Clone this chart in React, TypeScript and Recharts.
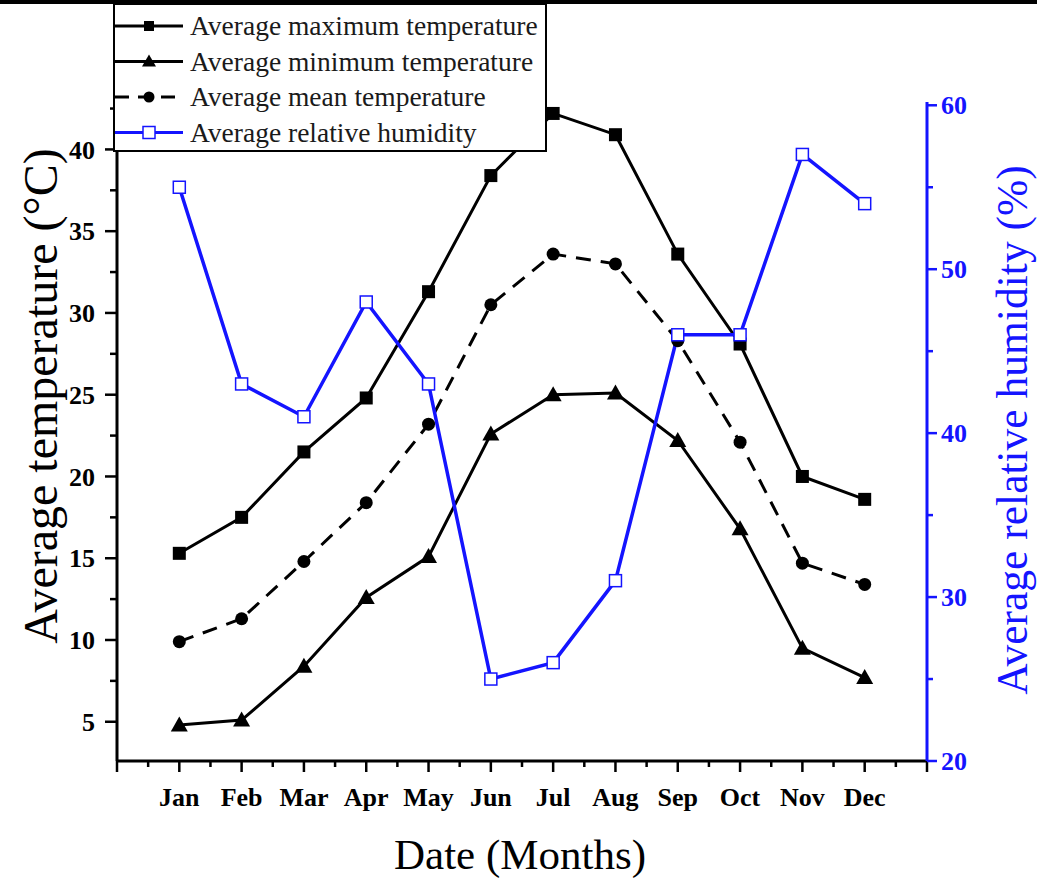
import React from 'react';
import { LineChart, Line, XAxis, YAxis } from 'recharts';

// monthly climate normals
const months = ['Jan', 'Feb', 'Mar', 'Apr', 'May', 'Jun', 'Jul', 'Aug', 'Sep', 'Oct', 'Nov', 'Dec'];
const maxTemp = [15.3, 17.5, 21.5, 24.8, 31.3, 38.4, 42.2, 40.9, 33.6, 28.1, 20.0, 18.6];
const minTemp = [4.8, 5.1, 8.4, 12.6, 15.1, 22.6, 25.0, 25.1, 22.2, 16.8, 9.5, 7.7];
const meanTemp = [9.9, 11.3, 14.8, 18.4, 23.2, 30.5, 33.6, 33.0, 28.3, 22.1, 14.7, 13.4];
const humidity = [55, 43, 41, 48, 43, 25, 26, 31, 46, 46, 57, 54];

const monthTicks = [0, 0.5, 1, 1.5, 2, 2.5, 3, 3.5, 4, 4.5, 5, 5.5, 6, 6.5, 7, 7.5, 8, 8.5, 9, 9.5, 10, 10.5, 11, 11.5, 12, 12.5, 13];
const tempTicks = [5, 7.5, 10, 12.5, 15, 17.5, 20, 22.5, 25, 27.5, 30, 32.5, 35, 37.5, 40, 42.5];
const humidityTicks = [20, 25, 30, 35, 40, 45, 50, 55, 60];

const data = months.map((m, i) => ({
  month: i + 1,
  max: maxTemp[i],
  min: minTemp[i],
  mean: meanTemp[i],
  rh: humidity[i],
}));

const FONT = '"Liberation Serif", "Times New Roman", serif';
const BLUE = '#1414ff';
const TICK_FONT = 26;

const BottomTick = (p: any) => {
  const v = p.payload.value;
  const major = Number.isInteger(v);
  return (
    <g>
      <line x1={p.x} y1={p.y} x2={p.x} y2={p.y + (major ? 11 : 6)} stroke="#000" strokeWidth={2.5} />
      {major && v >= 1 && v <= 12 && (
        <text x={p.x} y={p.y + 45} textAnchor="middle" fontFamily={FONT} fontWeight="bold" fontSize={TICK_FONT} fill="#000">
          {months[v - 1]}
        </text>
      )}
    </g>
  );
};

const TopTick = (p: any) => {
  const major = Number.isInteger(p.payload.value);
  return <line x1={p.x} y1={p.y} x2={p.x} y2={p.y + (major ? 10 : 6)} stroke="#000" strokeWidth={2.5} />;
};

const LeftTick = (p: any) => {
  const v = p.payload.value;
  const major = v % 5 === 0;
  return (
    <g>
      <line x1={p.x} y1={p.y} x2={p.x - (major ? 12 : 7)} y2={p.y} stroke="#000" strokeWidth={2.5} />
      {major && (
        <text x={p.x - 22} y={p.y} dy="0.35em" textAnchor="end" fontFamily={FONT} fontWeight="bold" fontSize={TICK_FONT} fill="#000">
          {v}
        </text>
      )}
    </g>
  );
};

const RightTick = (p: any) => {
  const v = p.payload.value;
  const major = v % 10 === 0;
  return (
    <g>
      <line x1={p.x} y1={p.y} x2={p.x + (major ? 10 : 6)} y2={p.y} stroke={BLUE} strokeWidth={2.5} />
      {major && (
        <text x={p.x + 14} y={p.y} dy="0.35em" textAnchor="start" fontFamily={FONT} fontWeight="bold" fontSize={TICK_FONT} fill={BLUE}>
          {v}
        </text>
      )}
    </g>
  );
};

const SquareDot = (p: any) => (
  <rect key={`sq-${p.index}`} x={p.cx - 6.5} y={p.cy - 6.5} width={13} height={13} fill="#000" />
);
const TriangleDot = (p: any) => (
  <path key={`tr-${p.index}`} d={`M${p.cx},${p.cy - 8.5} L${p.cx + 8.5},${p.cy + 6.5} L${p.cx - 8.5},${p.cy + 6.5} Z`} fill="#000" />
);
const CircleDot = (p: any) => <circle key={`ci-${p.index}`} cx={p.cx} cy={p.cy} r={6.5} fill="#000" />;
const OpenSquareDot = (p: any) => (
  <rect key={`os-${p.index}`} x={p.cx - 6} y={p.cy - 6} width={12} height={12} fill="#fff" stroke={BLUE} strokeWidth={1.5} />
);

const LeftTitle = (p: any) => {
  const vb = p.viewBox;
  const cx = vb.x + 40;
  const cy = 396;
  return (
    <text x={cx} y={cy} transform={`rotate(-90 ${cx} ${cy})`} textAnchor="middle" dy="0.35em" fontFamily={FONT} fontSize={48} fill="#000">
      Average temperature (°C)
    </text>
  );
};

const RightTitle = (p: any) => {
  const vb = p.viewBox;
  const cx = vb.x + 85;
  const cy = 430;
  return (
    <text x={cx} y={cy} transform={`rotate(-90 ${cx} ${cy})`} textAnchor="middle" dy="0.35em" fontFamily={FONT} fontSize={43.5} fill={BLUE}>
      Average relative humidity (%)
    </text>
  );
};

const BottomTitle = (p: any) => {
  const vb = p.viewBox;
  return (
    <text x={vb.x + vb.width / 2 - 2} y={vb.y + 108} textAnchor="middle" fontFamily={FONT} fontSize={43} fill="#000">
      Date (Months)
    </text>
  );
};

const legendItems = [
  { name: 'Average maximum temperature', color: '#000', dash: undefined, marker: 'square' },
  { name: 'Average minimum temperature', color: '#000', dash: undefined, marker: 'triangle' },
  { name: 'Average mean temperature', color: '#000', dash: '14 9', marker: 'circle' },
  { name: 'Average relative humidity', color: BLUE, dash: undefined, marker: 'open' },
];

function LegendBox() {
  return (
    <div
      style={{
        position: 'absolute',
        left: 113,
        top: 3,
        width: 430,
        height: 145,
        border: '2px solid #000',
        background: '#fff',
      }}
    >
      <svg width={430} height={145}>
        {legendItems.map((it, i) => {
          const y = 21 + i * 35.5;
          const mx = 34;
          return (
            <g key={it.name}>
              <line x1={0} y1={y} x2={68} y2={y} stroke={it.color} strokeWidth={3} strokeDasharray={it.dash} />
              {it.marker === 'square' && <rect x={mx - 5} y={y - 5} width={10} height={10} fill="#000" />}
              {it.marker === 'triangle' && <path d={`M${mx},${y - 7} L${mx + 7},${y + 5} L${mx - 7},${y + 5} Z`} fill="#000" />}
              {it.marker === 'circle' && <circle cx={mx} cy={y} r={5.5} fill="#000" />}
              {it.marker === 'open' && (
                <rect x={mx - 6} y={y - 6} width={12} height={12} fill="#fff" stroke={BLUE} strokeWidth={1.5} />
              )}
              <text x={75} y={y} dy="0.33em" fontFamily={FONT} fontSize={27.5} fill="#1a1a1a">
                {it.name}
              </text>
            </g>
          );
        })}
      </svg>
    </div>
  );
}

export default function App() {
  return (
    <div style={{ position: 'absolute', left: 0, top: 0, width: 1037, height: 881, background: '#fff', overflow: 'hidden' }}>
      <div style={{ position: 'absolute', left: 0, top: 0, width: 1037, height: 4, background: '#000' }} />
      <LineChart width={1037} height={881} data={data} margin={{ top: 102, right: 0, bottom: 0, left: 0 }}>
        <XAxis
          xAxisId="x"
          dataKey="month"
          type="number"
          domain={[0, 13]}
          ticks={monthTicks}
          interval={0}
          height={120}
          tickSize={0}
          tickMargin={0}
          tickLine={false}
          tick={<BottomTick />}
          axisLine={{ stroke: '#000', strokeWidth: 3 }}
          label={<BottomTitle />}
        />
        <XAxis
          xAxisId="top"
          orientation="top"
          dataKey="month"
          type="number"
          domain={[0, 13]}
          ticks={monthTicks}
          interval={0}
          height={0}
          tickSize={0}
          tickMargin={0}
          tickLine={false}
          tick={<TopTick />}
          axisLine={{ stroke: '#000', strokeWidth: 3 }}
        />
        <YAxis
          yAxisId="t"
          type="number"
          domain={[2.6, 42.9]}
          allowDataOverflow
          ticks={tempTicks}
          interval={0}
          width={117}
          tickSize={0}
          tickMargin={0}
          tickLine={false}
          tick={<LeftTick />}
          axisLine={{ stroke: '#000', strokeWidth: 3 }}
          label={<LeftTitle />}
        />
        <YAxis
          yAxisId="h"
          orientation="right"
          type="number"
          domain={[20, 60.2]}
          allowDataOverflow
          ticks={humidityTicks}
          interval={0}
          width={110}
          tickSize={0}
          tickMargin={0}
          tickLine={false}
          tick={<RightTick />}
          axisLine={{ stroke: BLUE, strokeWidth: 3 }}
          label={<RightTitle />}
        />
        <Line xAxisId="x" yAxisId="t" dataKey="max" stroke="#000" strokeWidth={3} dot={SquareDot} activeDot={false} isAnimationActive={false} />
        <Line xAxisId="x" yAxisId="t" dataKey="min" stroke="#000" strokeWidth={3} dot={TriangleDot} activeDot={false} isAnimationActive={false} />
        <Line xAxisId="x" yAxisId="t" dataKey="mean" stroke="#000" strokeWidth={3} strokeDasharray="15 10" dot={CircleDot} activeDot={false} isAnimationActive={false} />
        <Line xAxisId="x" yAxisId="h" dataKey="rh" stroke={BLUE} strokeWidth={3.5} dot={OpenSquareDot} activeDot={false} isAnimationActive={false} />
      </LineChart>
      <LegendBox />
    </div>
  );
}
